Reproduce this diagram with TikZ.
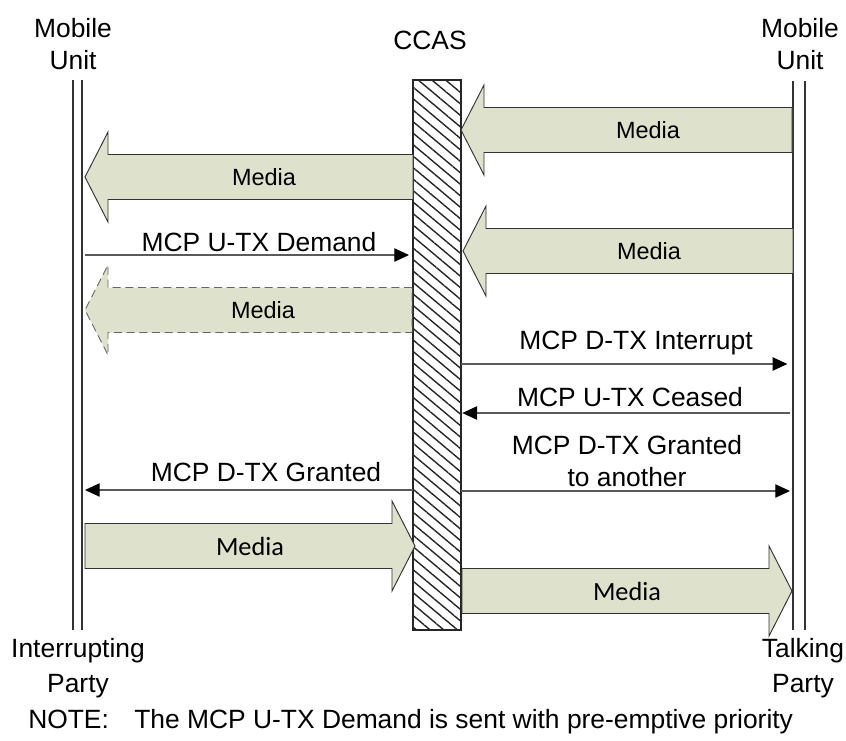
\documentclass[tikz,border=0pt]{standalone}
\usepackage{fontspec}
\setmainfont{Liberation Sans}
\newfontfamily\calibrifont{Carlito}
\usepackage{tikz}
\usetikzlibrary{arrows.meta,patterns.meta}

\definecolor{mediafill}{HTML}{DEE1CC}
\definecolor{msggray}{HTML}{5A5A5A}

\tikzset{
  lifeline/.style={draw=black!80, line width=0.8pt},
  media/.style={draw=black!80, fill=mediafill, line width=0.7pt},
  msg/.style={draw=msggray, line width=0.8pt, -{Triangle[length=11pt,width=10pt,color=black]}},
  lbl/.style={font=\fontsize{19.8}{24}\selectfont, inner sep=0pt, align=center},
  medialbl/.style={font=\fontsize{17.6}{20}\selectfont, inner sep=0pt},
  medialblb/.style={font=\calibrifont\fontsize{19.7}{22}\selectfont, inner sep=0pt},
}

\begin{document}
\begin{tikzpicture}[x={(0.75pt,0)}, y={(0,-0.75pt)}]
    \useasboundingbox (0,0) rectangle (846,740);

    % Heads
    \node[lbl] (muLtop) at (73,44) {Mobile\\Unit};
    \node[lbl] (ccastop) at (430,40) {CCAS};
    \node[lbl] (muRtop) at (800,44) {Mobile\\Unit};

    % Lifelines
    \draw[lifeline] (73,80) -- (73,630);
    \draw[lifeline] (82,80) -- (82,630);
    \draw[lifeline] (793,81) -- (793,630);
    \draw[lifeline] (805,81) -- (805,630);
    \coordinate (muL) at (85,0);
    \coordinate (muR) at (790,0);

    % CCAS bar
    \path[pattern={Lines[angle=-40,distance=6.6pt,line width=1.05pt]}, pattern color=black!85,
          draw=black!85, line width=0.8pt] (413,80) rectangle (461,630);
    \coordinate (ccW) at (413,0);
    \coordinate (ccE) at (461,0);

    % Media streams pointing left
    \foreach \tail/\tip/\c in {792/461/130, 413/85/177, 793/463/251}
        \draw[media] (\tail,\c-22.5) -- (\tip+23,\c-22.5) -- (\tip+23,\c-45) -- (\tip,\c)
            -- (\tip+23,\c+45) -- (\tip+23,\c+22.5) -- (\tail,\c+22.5) -- cycle;
    \draw[media, draw=black!60, dash pattern=on 6pt off 3.5pt] (412,287.5) -- (108,287.5) -- (108,265)
        -- (85,310) -- (108,355) -- (108,332.5) -- (412,332.5) -- cycle;

    % Media streams pointing right
    \foreach \tail/\tip/\c in {85/415/546, 462/792/591}
        \draw[media] (\tail,\c-22.5) -- (\tip-23,\c-22.5) -- (\tip-23,\c-45) -- (\tip,\c)
            -- (\tip-23,\c+45) -- (\tip-23,\c+22.5) -- (\tail,\c+22.5) -- cycle;

    \node[medialbl] (media1) at (648,130) {Media};
    \node[medialbl] (media2) at (264,177) {Media};
    \node[medialbl] (media3) at (649,251) {Media};
    \node[medialbl] (media4) at (263,310) {Media};
    \node[medialblb] (media5) at (250,546) {Media};
    \node[medialblb] (media6) at (627,591) {Media};

    % Messages
    \draw[msg] (muL |- 0,255) -- ([xshift=-3pt]ccW |- 0,255);
    \node[lbl] (demand) at (259,242) {MCP U-TX Demand};

    \draw[msg] (ccE |- 0,364) -- ([xshift=-2pt]muR |- 0,364);
    \node[lbl] (interrupt) at (636,343) {MCP D-TX Interrupt};

    \draw[msg] (muR |- 0,413) -- ([xshift=1pt]ccE |- 0,413);
    \node[lbl] (ceased) at (630,397) {MCP U-TX Ceased};

    \draw[msg] (ccE |- 0,491) -- (muR |- 0,491);
    \node[lbl] (another) at (627,461) {MCP D-TX Granted\\to another};

    \draw[msg] (ccW |- 0,490) -- (muL |- 0,490);
    \node[lbl] (granted) at (266,472) {MCP D-TX Granted};

    % Feet
    \node[lbl, font=\fontsize{19.8}{26}\selectfont] (muLfoot) at (78,668) {Interrupting\\Party};
    \node[lbl, font=\fontsize{19.8}{26}\selectfont] (muRfoot) at (803,668) {Talking\\Party};
    \node[lbl, anchor=west] (note) at (28,722)
        {NOTE:\hspace{19pt}The MCP U-TX Demand is sent with pre-emptive priority};
\end{tikzpicture}
\end{document}
